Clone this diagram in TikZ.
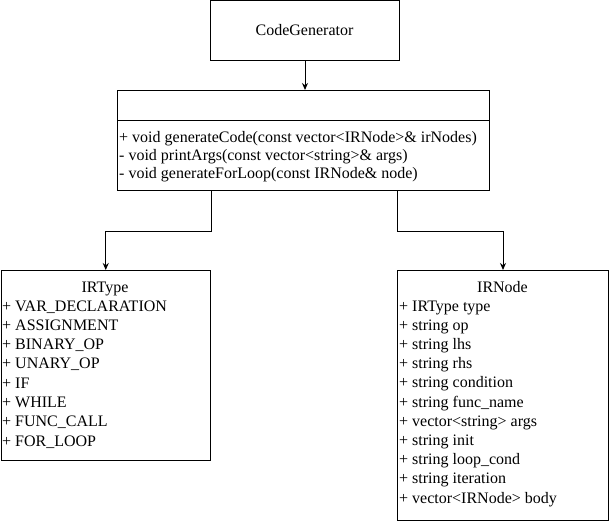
\documentclass[tikz,border=0pt]{standalone}
\usepackage{fontspec}
\setmainfont{Liberation Serif}
\usetikzlibrary{arrows.meta}
\tikzset{
  box/.style={draw=black, line width=1pt, inner sep=0pt, anchor=north west},
  txt/.style={inner sep=0pt, anchor=base west, font=\fontsize{16}{19.3}\selectfont},
  ttl/.style={inner sep=0pt, anchor=base, font=\fontsize{16}{19.3}\selectfont},
  arr/.style={draw=black, line width=1pt, -{Stealth[length=7pt,width=6pt]}},
}
\begin{document}
\begin{tikzpicture}[x=1pt,y=-1pt]
\useasboundingbox (0,0) rectangle (609,521);
\node[box, minimum width=189pt, minimum height=59.5pt] (cg) at (210,0.5) {};
\node[ttl] (cgt) at (304.5,36) {CodeGenerator};
\node[box, minimum width=372pt, minimum height=100pt] (mid) at (117,90) {};
\draw[line width=1pt] (mid.west |- 0,120.5) coordinate (dl) -- (mid.east |- 0,120.5) coordinate (dr);
\node[txt] (m1) at (119,142.5) {+ void generateCode(const vector<IRNode>\& irNodes)};
\node[txt] (m2) at (119,160.5) {- void printArgs(const vector<string>\& args)};
\node[txt] (m3) at (119,178.5) {- void generateForLoop(const IRNode\& node)};
\node[box, minimum width=209.5pt, minimum height=190pt] (irt) at (0.5,270) {};
\node[ttl] (irtt) at (105,292) {IRType};
\foreach \t [count=\i] in {+ VAR\_DECLARATION, + ASSIGNMENT, + BINARY\_OP, + UNARY\_OP, + IF, + WHILE, + FUNC\_CALL, + FOR\_LOOP}
  \node[txt] (irt\i) at (2,{311+19.3*(\i-1)}) {\t};
\node[box, minimum width=211pt, minimum height=250pt] (irn) at (397,270) {};
\node[ttl] (irnt) at (502.5,292) {IRNode};
\foreach \t [count=\i] in {+ IRType type, + string op, + string lhs, + string rhs, + string condition, + string func\_name, + vector<string> args, + string init, + string loop\_cond, + string iteration, + vector<IRNode> body}
  \node[txt] (irn\i) at (399,{311+19.2*(\i-1)}) {\t};
\draw[arr] (cg.south) -- (cg.south |- mid.north);
\draw[arr] (mid.south -| irt.north east) -- ++(0,40) -| (irt.north);
\draw[arr] (mid.south -| irn.north west) -- ++(0,40) -| (irn.north);
\end{tikzpicture}
\end{document}
